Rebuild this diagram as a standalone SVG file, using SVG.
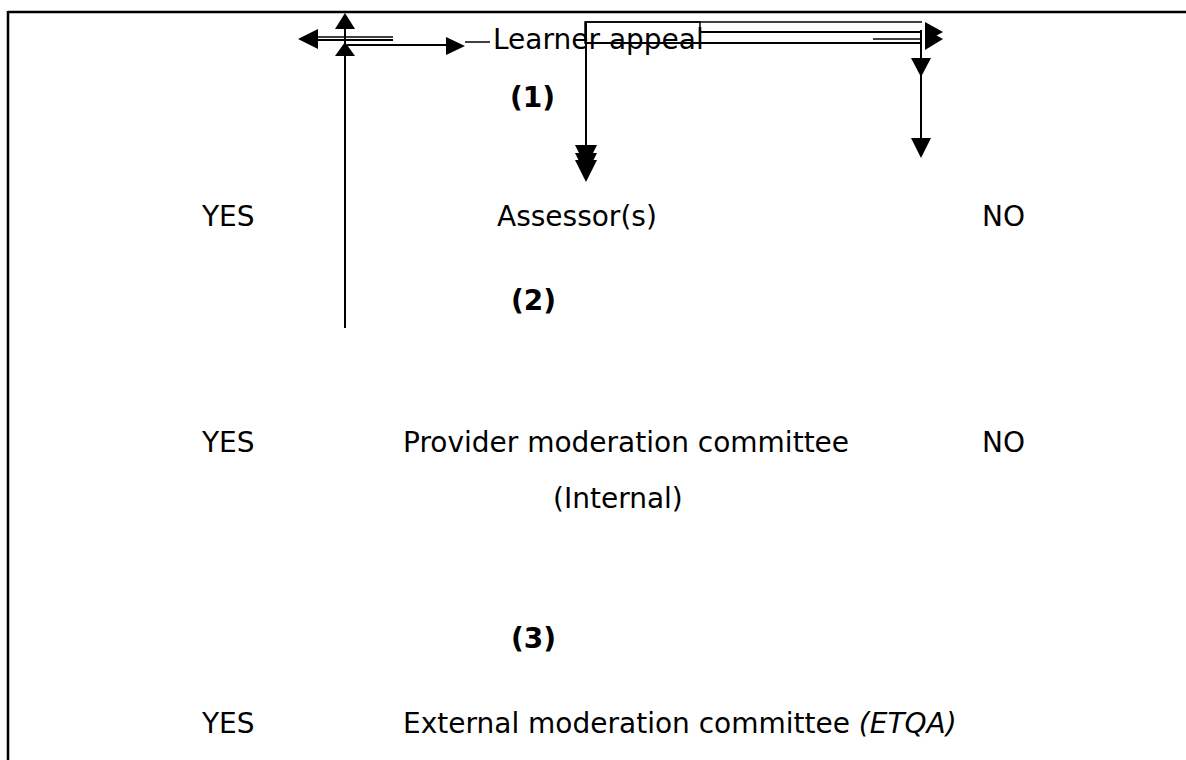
<svg xmlns="http://www.w3.org/2000/svg" width="1186" height="760" viewBox="0 0 1186 760">
<style>
text{font-family:"DejaVu Sans","Liberation Sans",sans-serif;font-size:28px;fill:#000}
.b{font-weight:bold}
.i{font-style:italic}
.ln{stroke:#000;stroke-width:2;fill:none}
.th{stroke:#000;stroke-width:1.5;fill:none}
.ah{fill:#000;stroke:none}
</style>
<rect width="1186" height="760" fill="#fff"/>
<g id="frame">
<line class="ln" x1="8" y1="12" x2="1186" y2="12" style="stroke-width:2.5"/>
<line class="ln" x1="8" y1="11" x2="8" y2="760" style="stroke-width:2.5"/>
</g>
<g id="connectors">
<line class="ln" x1="345" y1="328" x2="345" y2="26"/>
<polygon class="ah" points="345,13 335,29 355,29"/>
<polygon class="ah" points="345,42 335,56 355,56"/>
<line class="th" x1="316" y1="37" x2="393" y2="37"/>
<line class="ln" x1="316" y1="40" x2="393" y2="40"/>
<polygon class="ah" points="298,39 318,29 318,49"/>
<line class="ln" x1="347" y1="45" x2="450" y2="45"/>
<polygon class="ah" points="465,46 446,37 446,55"/>
<line class="th" x1="465" y1="42" x2="490" y2="42"/>
<rect class="th" x="585" y="22" width="115" height="21"/>
<line class="th" x1="585" y1="22" x2="922" y2="22"/>
<line class="ln" x1="700" y1="32" x2="922" y2="32"/>
<line class="ln" x1="585" y1="43" x2="922" y2="43"/>
<line class="th" x1="873" y1="39" x2="922" y2="39"/>
<polygon class="ah" points="925,22 943,32 925,42"/>
<polygon class="ah" points="925,29 943,39 925,50"/>
<line class="ln" x1="921" y1="30" x2="921" y2="140"/>
<polygon class="ah" points="911,58 931,58 921,77"/>
<polygon class="ah" points="911,138 931,138 921,158"/>
<line class="ln" x1="586" y1="22" x2="586" y2="160"/>
<polygon class="ah" points="575,145 597,145 586,167"/>
<polygon class="ah" points="575,153 597,153 586,175"/>
<polygon class="ah" points="575,160 597,160 586,182"/>
</g>
<g id="learner-appeal"><text x="493" y="49">Learner appeal</text></g>
<g id="step1"><text class="b" x="510" y="107">(1)</text></g>
<g id="yes1"><text x="202" y="226">YES</text></g>
<g id="assessors"><text x="497" y="226">Assessor(s)</text></g>
<g id="no1"><text x="982" y="226">NO</text></g>
<g id="step2"><text class="b" x="511" y="310">(2)</text></g>
<g id="yes2"><text x="202" y="452">YES</text></g>
<g id="provider"><text x="403" y="452">Provider moderation committee</text><text x="553" y="508">(Internal)</text></g>
<g id="no2"><text x="982" y="452">NO</text></g>
<g id="step3"><text class="b" x="511" y="648">(3)</text></g>
<g id="yes3"><text x="202" y="733">YES</text></g>
<g id="external"><text x="403" y="733">External moderation committee <tspan class="i">(ETQA)</tspan></text></g>
</svg>
